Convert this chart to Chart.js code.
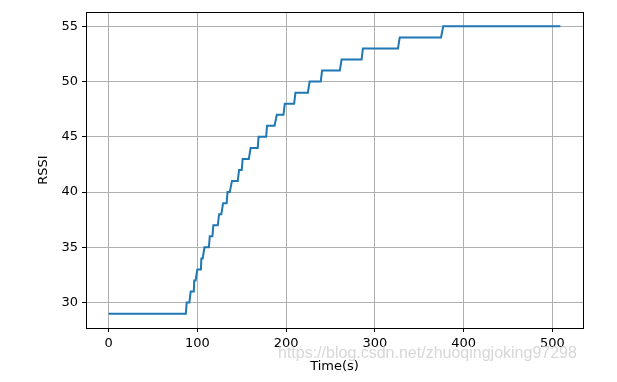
<!DOCTYPE html>
<html>
<head>
<meta charset="utf-8">
<script src="https://cdn.jsdelivr.net/npm/chart.js@4"></script>
<style>
  html, body { margin: 0; padding: 0; background: #fff; }
  #wrap { width: 617px; height: 382px; }
</style>
</head>
<body>
<div id="wrap"><canvas id="chart"></canvas></div>
<script>
// RSSI staircase: each level held from stepStart to stepEnd (seconds)
const stepLevel = [29, 30, 31, 32, 33, 34, 35, 36, 37, 38, 39, 40, 41, 42,
  43, 44, 45, 46, 47, 48, 49, 50, 51, 52, 53, 54, 55];
const stepStart = [0, 88, 92.5, 96.5, 100, 104.5, 108, 114, 118, 124.5, 129, 134, 139, 147,
  151, 160, 169, 178.5, 189.5, 198.5, 210.5, 226.5, 240.5, 262.5, 286.5, 328, 377];
const stepEnd = [87, 91, 96, 98, 104, 106, 113, 117, 123, 127, 133, 136.5, 145.5, 150,
  158, 168, 177.5, 187, 197, 209, 224.5, 239, 260.5, 285, 326, 374.5, 509];

const xTicks = [0, 100, 200, 300, 400, 500];
const yTicks = [30, 35, 40, 45, 50, 55];

const points = [];
stepLevel.forEach((v, i) => {
  points.push({ x: stepStart[i], y: v });
  points.push({ x: stepEnd[i], y: v });
});

const font = { family: "DejaVu Sans", size: 13 };

// top/right spines + watermark
const frame = {
  id: "frame",
  afterDraw(chart) {
    const { ctx, chartArea: a } = chart;
    ctx.save();
    ctx.strokeStyle = "#000";
    ctx.lineWidth = 1;
    ctx.strokeRect(Math.round(a.left) + 0.5, Math.round(a.top) + 0.5,
      Math.round(a.right - a.left), Math.round(a.bottom - a.top));
    ctx.font = "16px 'Liberation Sans Narrow', 'Liberation Sans', sans-serif";
    ctx.fillStyle = "rgba(205,205,205,0.8)";
    ctx.textBaseline = "middle";
    ctx.fillText("https://blog.csdn.net/zhuoqingjoking97298", 278, 354);
    ctx.restore();
  },
};

new Chart(document.getElementById("chart"), {
  type: "line",
  data: {
    datasets: [{
      data: points,
      borderColor: "#1f77b4",
      borderWidth: 2,
      pointRadius: 0,
      fill: false,
      tension: 0,
    }],
  },
  options: {
    responsive: true,
    maintainAspectRatio: false,
    animation: false,
    events: [],
    layout: { padding: { top: 12, right: 34, left: 0, bottom: 0 } },
    plugins: { legend: { display: false }, tooltip: { enabled: false } },
    scales: {
      x: {
        type: "linear",
        min: -25.45,
        max: 534.45,
        afterBuildTicks: (s) => { s.ticks = xTicks.map((v) => ({ value: v })); },
        afterFit: (s) => { s.height = 54; },
        ticks: { color: "#000", font, padding: 4, maxRotation: 0 },
        grid: { color: "#b0b0b0", tickColor: "#000", tickLength: 4, lineWidth: 1 },
        border: { color: "#000", width: 1 },
        title: { display: true, text: "Time(s)", color: "#000", font, padding: { top: 0, bottom: 8 } },
      },
      y: {
        min: 27.7,
        max: 56.3,
        afterBuildTicks: (s) => { s.ticks = yTicks.map((v) => ({ value: v })); },
        afterFit: (s) => { s.width = 86; },
        ticks: { color: "#000", font, padding: 4 },
        grid: { color: "#b0b0b0", tickColor: "#000", tickLength: 4, lineWidth: 1 },
        border: { color: "#000", width: 1 },
        title: { display: true, text: "RSSI", color: "#000", font, padding: { top: 36, bottom: 0 } },
      },
    },
  },
  plugins: [frame],
});
</script>
</body>
</html>
